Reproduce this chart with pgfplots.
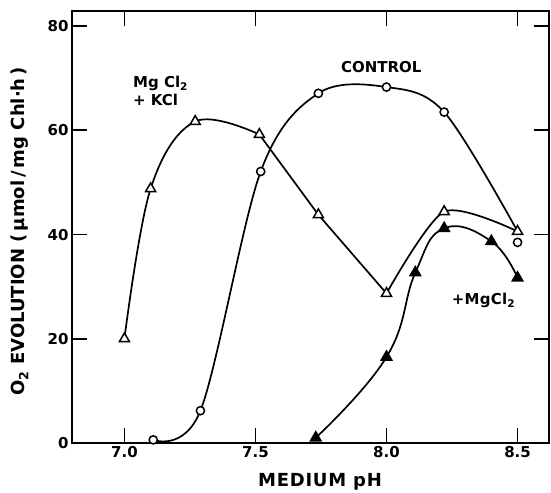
\documentclass[border=0pt]{standalone}
\usepackage{fontspec}
\setmainfont{DejaVu Sans}
\usepackage{pgfplots}
\pgfplotsset{compat=1.18}
\begin{document}
\begin{tikzpicture}
\begin{axis}[
  name=ax,
  scale only axis, width=477pt, height=432pt,
  xmin=6.8, xmax=8.62, ymin=0, ymax=82.9,
  xtick={7.0,7.5,8.0,8.5}, ytick={0,20,40,60,80},
  xticklabels={7.0,7.5,8.0,8.5},
  tick align=inside, major tick length=15pt,
  axis line style={line width=1.8pt},
  tick style={line width=1.8pt, black},
  ticklabel style={font=\fontsize{15}{15}\selectfont\bfseries},
  /pgf/number format/assume math mode=true,
  xlabel={\fontsize{18}{18}\selectfont\bfseries\addfontfeature{LetterSpace=4}MEDIUM pH},
  ylabel={\fontsize{18}{18}\selectfont\bfseries O\textsubscript{2} EVOLUTION (\,μmol\,/\,mg Chl·h\,)},
  xlabel style={at={(axis description cs:0.52,0)}, anchor=center, yshift=-39pt},
  ylabel style={at={(axis description cs:-0.109,0.49)}, anchor=center, rotate=0},
  clip=false,
]
% MgCl2 + KCl (open triangles)
\addplot[line width=1.7pt, smooth, tension=0.6] coordinates {
  (7.0,20) (7.10,48.8) (7.27,61.7) (7.515,59.2)
};
\addplot[line width=1.7pt] coordinates {
  (7.515,59.2) (7.74,43.8) (8.0,28.7)
};
\addplot[line width=1.7pt, smooth, tension=0.45] coordinates {
  (8.0,28.7) (8.22,44.4) (8.5,40.6)
};
\addplot[only marks, mark=triangle*, mark size=5.8pt, mark options={fill=white, line width=1.5pt}] coordinates {
  (7.0,20) (7.10,48.8) (7.27,61.7) (7.515,59.2) (7.74,43.8) (8.0,28.7) (8.22,44.4) (8.5,40.6)
};
% Control (open circles)
\addplot[line width=1.7pt, smooth, tension=0.55] coordinates {
  (7.11,0.6) (7.29,6.2) (7.52,52.1) (7.74,67.1) (8.0,68.3) (8.22,63.5) (8.5,40.6)
};
\addplot[only marks, mark=*, mark size=4.1pt, mark options={fill=white, line width=1.5pt}] coordinates {
  (7.11,0.6) (7.29,6.2) (7.52,52.1) (7.74,67.1) (8.0,68.3) (8.22,63.5) (8.5,38.5)
};
% + MgCl2 (filled triangles)
\addplot[line width=1.7pt, smooth, tension=0.75, mark=triangle*, mark size=5.8pt, mark options={fill=black}] coordinates {
  (7.73,1.0) (8.0,16.5) (8.11,32.7) (8.22,41.2) (8.40,38.7) (8.5,31.7)
};
% annotations
\node[anchor=west, align=left, font=\fontsize{15}{18}\selectfont\bfseries] at (axis cs:7.02,67.6) {Mg Cl\textsubscript{2}\\+ KCl};
\node[font=\fontsize{15}{15}\selectfont\bfseries] at (axis cs:7.98,72.2) {CONTROL};
\node[font=\fontsize{15}{15}\selectfont\bfseries\addfontfeature{LetterSpace=2}] at (axis cs:8.37,27.4) {+MgCl\textsubscript{2}};
\end{axis}
\pgfresetboundingbox
\path[use as bounding box] ([xshift=-72pt,yshift=-50pt]ax.south west) rectangle ([xshift=2pt,yshift=11pt]ax.north east);
\end{tikzpicture}
\end{document}
